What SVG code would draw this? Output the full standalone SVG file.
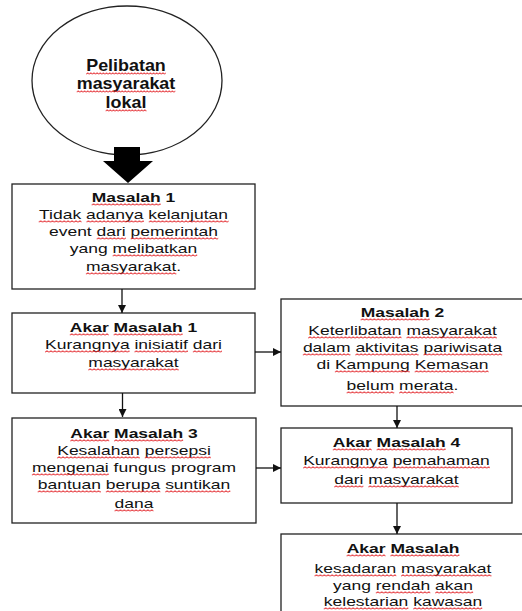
<svg xmlns="http://www.w3.org/2000/svg" width="522" height="611" viewBox="0 0 522 611">
<style>
.box{fill:#fff;stroke:#222;stroke-width:1.3}
.t{font-family:"Liberation Sans",Arial,sans-serif;font-size:12.5px;fill:#111;text-anchor:middle}
.b{font-weight:bold}
.et{font-family:"Liberation Sans",Arial,sans-serif;font-size:16px;font-weight:bold;fill:#111;text-anchor:middle}
.s{fill:url(#sq)}
.c{stroke:#111;stroke-width:1.3;fill:none}
</style>
<defs>
<pattern id="sq" patternUnits="userSpaceOnUse" x="0" y="0" width="2.8" height="3">
<path d="M0,2.3 L1.4,0.7 L2.8,2.3" fill="none" stroke="#e3262b" stroke-width="0.75"/>
</pattern>
<marker id="ah" viewBox="0 0 10 10" refX="10" refY="5" markerWidth="8" markerHeight="8" markerUnits="userSpaceOnUse" orient="auto">
<path d="M0,0 L10,5 L0,10 Z" fill="#111"/>
</marker>
</defs>
<g id="pelibatan">
<ellipse cx="127" cy="80.5" rx="95" ry="74.5" fill="#fff" stroke="#222" stroke-width="1.3"/>
<text class="et" transform="translate(126,0) scale(1.12,1)"><tspan x="0" y="71"><tspan>Pelibatan</tspan></tspan><tspan x="0" y="89"><tspan>masyarakat</tspan></tspan><tspan x="0" y="108"><tspan>lokal</tspan></tspan></text>
<g transform="translate(126,0) scale(1.12,1)">
<rect class="s" transform="translate(-35.6,72)" width="71.1" height="3"/>
<rect class="s" transform="translate(-44,90)" width="88" height="3"/>
<rect class="s" transform="translate(-18.2,109)" width="36.5" height="3"/>
</g>
</g>
<g id="masalah1">
<rect class="box" x="12" y="184" width="243" height="105"/>
<text class="t" transform="translate(133.5,0) scale(1.4,1)"><tspan class="b" x="0" y="202"><tspan>Masalah</tspan> 1</tspan><tspan x="0" y="219"><tspan>Tidak</tspan> <tspan>adanya</tspan> <tspan>kelanjutan</tspan></tspan><tspan x="0" y="236">event <tspan>dari</tspan> <tspan>pemerintah</tspan></tspan><tspan x="0" y="253">yang <tspan>melibatkan</tspan></tspan><tspan x="0" y="271"><tspan>masyarakat</tspan>.</tspan></text>
<g transform="translate(133.5,0) scale(1.4,1)">
<rect class="s" transform="translate(-29.9,203)" width="49.3" height="3"/>
<rect class="s" transform="translate(-67.7,220)" width="30.6" height="3"/>
<rect class="s" transform="translate(-33.6,220)" width="41" height="3"/>
<rect class="s" transform="translate(10.9,220)" width="57" height="3"/>
<rect class="s" transform="translate(-26.3,237)" width="20.8" height="3"/>
<rect class="s" transform="translate(-2,237)" width="62.5" height="3"/>
<rect class="s" transform="translate(-14.9,254)" width="60.4" height="3"/>
<rect class="s" transform="translate(-34,272)" width="64.6" height="3"/>
</g>
</g>
<g id="akar1">
<rect class="box" x="12" y="313" width="243" height="80"/>
<text class="t" transform="translate(133.5,0) scale(1.4,1)"><tspan class="b" x="0" y="332"><tspan>Akar</tspan> <tspan>Masalah</tspan> 1</tspan><tspan x="0" y="349"><tspan>Kurangnya</tspan> <tspan>inisiatif</tspan> <tspan>dari</tspan></tspan><tspan x="0" y="367"><tspan>masyarakat</tspan></tspan></text>
<g transform="translate(133.5,0) scale(1.4,1)">
<rect class="s" transform="translate(-45.5,333)" width="27.8" height="3"/>
<rect class="s" transform="translate(-14.2,333)" width="49.3" height="3"/>
<rect class="s" transform="translate(-63.2,350)" width="60.4" height="3"/>
<rect class="s" transform="translate(0.7,350)" width="38.2" height="3"/>
<rect class="s" transform="translate(42.4,350)" width="20.8" height="3"/>
<rect class="s" transform="translate(-32.3,368)" width="64.6" height="3"/>
</g>
</g>
<g id="akar3">
<rect class="box" x="12" y="418" width="244" height="105"/>
<text class="t" transform="translate(134,0) scale(1.4,1)"><tspan class="b" x="0" y="438"><tspan>Akar</tspan> <tspan>Masalah</tspan> 3</tspan><tspan x="0" y="455"><tspan>Kesalahan</tspan> <tspan>persepsi</tspan></tspan><tspan x="0" y="472"><tspan>mengenai</tspan> fungus program</tspan><tspan x="0" y="489"><tspan>bantuan</tspan> <tspan>berupa</tspan> <tspan>suntikan</tspan></tspan><tspan x="0" y="508"><tspan>dana</tspan></tspan></text>
<g transform="translate(134,0) scale(1.4,1)">
<rect class="s" transform="translate(-45.5,439)" width="27.8" height="3"/>
<rect class="s" transform="translate(-14.2,439)" width="49.3" height="3"/>
<rect class="s" transform="translate(-54.9,456)" width="59.1" height="3"/>
<rect class="s" transform="translate(7.7,456)" width="47.2" height="3"/>
<rect class="s" transform="translate(-72.95,473)" width="54.9" height="3"/>
<rect class="s" transform="translate(-68.8,490)" width="45.2" height="3"/>
<rect class="s" transform="translate(-20.1,490)" width="38.9" height="3"/>
<rect class="s" transform="translate(22.3,490)" width="46.5" height="3"/>
<rect class="s" transform="translate(-13.9,509)" width="27.8" height="3"/>
</g>
</g>
<g id="masalah2">
<rect class="box" x="281" y="299" width="243" height="107"/>
<text class="t" transform="translate(402.5,0) scale(1.4,1)"><tspan class="b" x="0" y="317"><tspan>Masalah</tspan> 2</tspan><tspan x="0" y="335"><tspan>Keterlibatan</tspan> <tspan>masyarakat</tspan></tspan><tspan x="0" y="352"><tspan>dalam</tspan> <tspan>aktivitas</tspan> <tspan>pariwisata</tspan></tspan><tspan x="0" y="369">di <tspan>Kampung</tspan> <tspan>Kemasan</tspan></tspan><tspan x="0" y="390"><tspan>belum</tspan> <tspan>merata</tspan>.</tspan></text>
<g transform="translate(402.5,0) scale(1.4,1)">
<rect class="s" transform="translate(-29.9,318)" width="49.3" height="3"/>
<rect class="s" transform="translate(-67.4,336)" width="66.7" height="3"/>
<rect class="s" transform="translate(2.8,336)" width="64.6" height="3"/>
<rect class="s" transform="translate(-71.2,353)" width="34" height="3"/>
<rect class="s" transform="translate(-33.7,353)" width="45.2" height="3"/>
<rect class="s" transform="translate(15,353)" width="56.2" height="3"/>
<rect class="s" transform="translate(-48.3,370)" width="53.5" height="3"/>
<rect class="s" transform="translate(8.7,370)" width="52.8" height="3"/>
<rect class="s" transform="translate(-39.9,391)" width="34" height="3"/>
<rect class="s" transform="translate(-2.4,391)" width="38.9" height="3"/>
</g>
</g>
<g id="akar4">
<rect class="box" x="281" y="428" width="231" height="75"/>
<text class="t" transform="translate(396.5,0) scale(1.4,1)"><tspan class="b" x="0" y="447"><tspan>Akar</tspan> <tspan>Masalah</tspan> 4</tspan><tspan x="0" y="465"><tspan>Kurangnya</tspan> <tspan>pemahaman</tspan></tspan><tspan x="0" y="484"><tspan>dari</tspan> <tspan>masyarakat</tspan></tspan></text>
<g transform="translate(396.5,0) scale(1.4,1)">
<rect class="s" transform="translate(-45.5,448)" width="27.8" height="3"/>
<rect class="s" transform="translate(-14.2,448)" width="49.3" height="3"/>
<rect class="s" transform="translate(-66.7,466)" width="60.4" height="3"/>
<rect class="s" transform="translate(-2.8,466)" width="69.5" height="3"/>
<rect class="s" transform="translate(-44.5,485)" width="20.8" height="3"/>
<rect class="s" transform="translate(-20.1,485)" width="64.6" height="3"/>
</g>
</g>
<g id="akar5">
<rect class="box" x="281" y="534" width="244" height="90"/>
<text class="t" transform="translate(403,0) scale(1.4,1)"><tspan class="b" x="0" y="553"><tspan>Akar</tspan> <tspan>Masalah</tspan></tspan><tspan x="0" y="573"><tspan>kesadaran</tspan> <tspan>masyarakat</tspan></tspan><tspan x="0" y="590">yang <tspan>rendah</tspan> <tspan>akan</tspan></tspan><tspan x="0" y="606"><tspan>kelestarian</tspan> <tspan>kawasan</tspan></tspan></text>
<g transform="translate(403,0) scale(1.4,1)">
<rect class="s" transform="translate(-40.3,554)" width="27.8" height="3"/>
<rect class="s" transform="translate(-9,554)" width="49.3" height="3"/>
<rect class="s" transform="translate(-63.2,574)" width="58.4" height="3"/>
<rect class="s" transform="translate(-1.4,574)" width="64.6" height="3"/>
<rect class="s" transform="translate(-19.4,591)" width="38.9" height="3"/>
<rect class="s" transform="translate(23,591)" width="27.1" height="3"/>
<rect class="s" transform="translate(-56.6,607)" width="60.4" height="3"/>
<rect class="s" transform="translate(7.3,607)" width="49.3" height="3"/>
</g>
</g>
<g id="connectors">
<path d="M114,147 H140 V161 H153 L128,183 L103,161 H114 Z" fill="#000"/>
<line class="c" x1="122" y1="289" x2="122" y2="313" marker-end="url(#ah)"/>
<line class="c" x1="122.5" y1="393" x2="122.5" y2="417" marker-end="url(#ah)"/>
<line class="c" x1="255" y1="352" x2="281" y2="352" marker-end="url(#ah)"/>
<line class="c" x1="256" y1="468" x2="281" y2="468" marker-end="url(#ah)"/>
<line class="c" x1="397" y1="406" x2="397" y2="428" marker-end="url(#ah)"/>
<line class="c" x1="397" y1="503" x2="397" y2="534" marker-end="url(#ah)"/>
</g>
</svg>
